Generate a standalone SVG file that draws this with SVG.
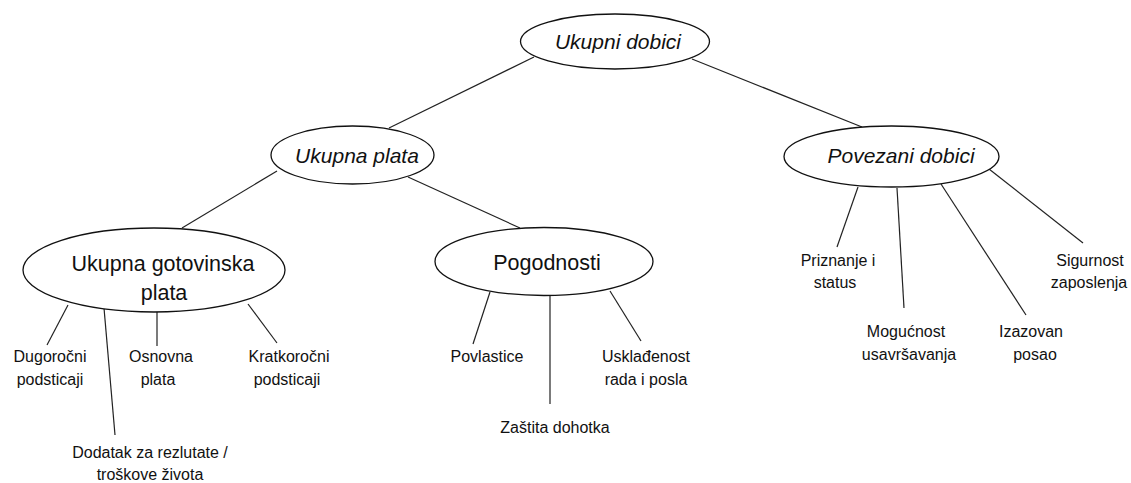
<svg xmlns="http://www.w3.org/2000/svg" width="1131" height="483" viewBox="0 0 1131 483">
<style>
.node ellipse{fill:#fff;stroke:#111;stroke-width:1.3}
.t{font-family:"Liberation Sans",Arial,sans-serif;fill:#111;text-anchor:middle}
.it{font-style:italic;font-size:21px}
.big{font-size:21.5px}
.lbl{font-size:16px}
#connectors line{stroke:#222;stroke-width:1.2}
</style>
<rect width="1131" height="483" fill="#fff"/>
<g id="connectors">
<line x1="534" y1="57" x2="389" y2="128"/>
<line x1="692" y1="59" x2="862" y2="127"/>
<line x1="277" y1="171" x2="182" y2="228"/>
<line x1="408" y1="177" x2="520" y2="228"/>
<line x1="68" y1="305" x2="47" y2="345"/>
<line x1="104" y1="308" x2="115" y2="435"/>
<line x1="157" y1="312" x2="157" y2="346"/>
<line x1="248" y1="304" x2="277" y2="343"/>
<line x1="490" y1="292" x2="473" y2="344"/>
<line x1="550" y1="296" x2="550" y2="404"/>
<line x1="610" y1="291" x2="641" y2="341"/>
<line x1="858" y1="187" x2="837" y2="247"/>
<line x1="897" y1="188" x2="904" y2="308"/>
<line x1="941" y1="184" x2="1026" y2="315"/>
<line x1="989" y1="169" x2="1083" y2="243"/>
</g>
<g id="n-ukupni-dobici" class="node">
<ellipse cx="615" cy="41.5" rx="94.5" ry="27.5"/>
<text class="t it" x="618" y="49">Ukupni dobici</text>
</g>
<g id="n-ukupna-plata" class="node">
<ellipse cx="352.5" cy="155" rx="81.5" ry="29"/>
<text class="t it" x="357" y="163">Ukupna plata</text>
</g>
<g id="n-povezani-dobici" class="node">
<ellipse cx="891.5" cy="156.5" rx="107.5" ry="30.5"/>
<text class="t it" x="901" y="163">Povezani dobici</text>
</g>
<g id="n-ukupna-gotovinska-plata" class="node">
<ellipse cx="154" cy="270" rx="131" ry="42"/>
<text class="t big" x="163" y="271">Ukupna gotovinska</text>
<text class="t big" x="164" y="300">plata</text>
</g>
<g id="n-pogodnosti" class="node">
<ellipse cx="544" cy="261.5" rx="109" ry="34"/>
<text class="t big" x="547" y="270">Pogodnosti</text>
</g>
<g id="n-dugorocni">
<text class="t lbl" x="50" y="362">Dugoročni</text>
<text class="t lbl" x="50" y="385">podsticaji</text>
</g>
<g id="n-dodatak">
<text class="t lbl" x="150" y="458">Dodatak za rezlutate /</text>
<text class="t lbl" x="150" y="480">troškove života</text>
</g>
<g id="n-osnovna">
<text class="t lbl" x="161" y="362">Osnovna</text>
<text class="t lbl" x="158" y="385">plata</text>
</g>
<g id="n-kratkorocni">
<text class="t lbl" x="289" y="362">Kratkoročni</text>
<text class="t lbl" x="287" y="385">podsticaji</text>
</g>
<g id="n-povlastice">
<text class="t lbl" x="487" y="362">Povlastice</text>
</g>
<g id="n-zastita">
<text class="t lbl" x="555" y="433">Zaštita dohotka</text>
</g>
<g id="n-uskladjenost">
<text class="t lbl" x="646" y="362">Usklađenost</text>
<text class="t lbl" x="646" y="385">rada i posla</text>
</g>
<g id="n-priznanje">
<text class="t lbl" x="838" y="266">Priznanje i</text>
<text class="t lbl" x="835" y="288">status</text>
</g>
<g id="n-mogucnost">
<text class="t lbl" x="906" y="337">Mogućnost</text>
<text class="t lbl" x="909" y="360">usavršavanja</text>
</g>
<g id="n-izazovan">
<text class="t lbl" x="1031" y="337">Izazovan</text>
<text class="t lbl" x="1035" y="360">posao</text>
</g>
<g id="n-sigurnost">
<text class="t lbl" x="1090" y="266">Sigurnost</text>
<text class="t lbl" x="1089" y="288">zaposlenja</text>
</g>
</svg>
